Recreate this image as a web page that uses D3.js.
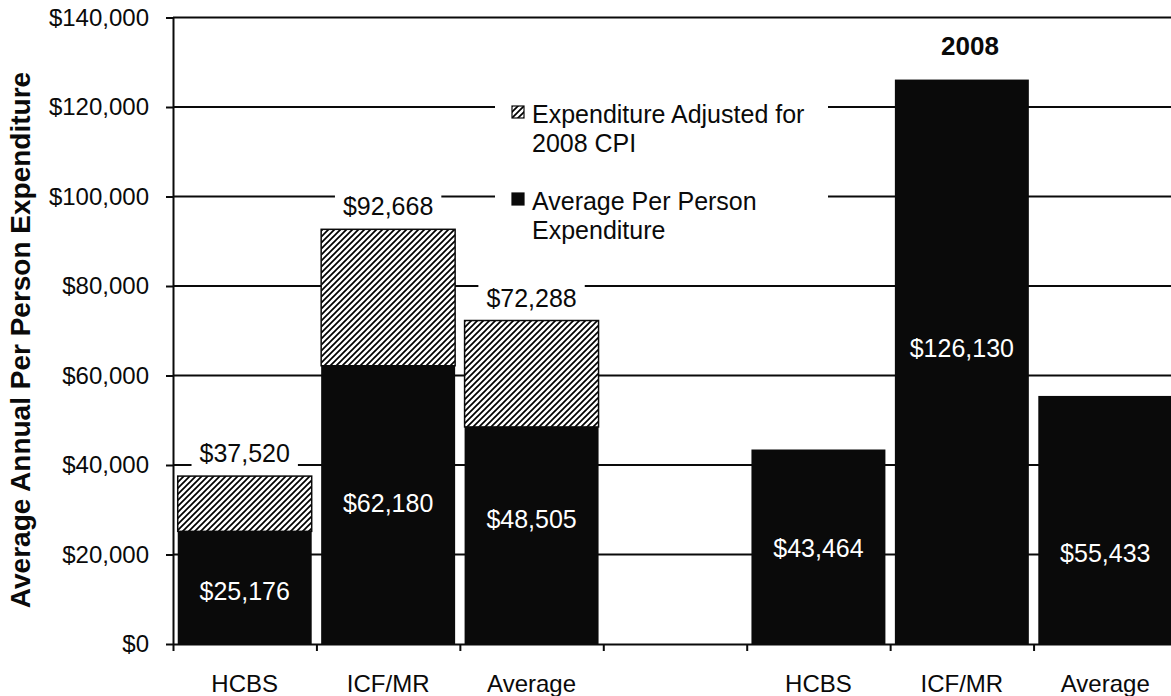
<!DOCTYPE html>
<html>
<head>
<meta charset="utf-8">
<script src="https://cdn.jsdelivr.net/npm/d3@7"></script>
<style>
  html, body { margin: 0; padding: 0; background: #fff; }
  svg { display: block; font-family: "Liberation Sans", Arial, sans-serif; }
</style>
</head>
<body>
<svg id="chart" width="1171" height="696"></svg>
<script>
// values
var categories = ["HCBS", "ICF/MR", "Average"]
var perPerson = [25176, 62180, 48505]
var adjusted = [37520, 92668, 72288]
var perPerson2008 = [43464, 126130, 55433]
var yTicks = [0, 20000, 40000, 60000, 80000, 100000, 120000, 140000]
var groupTitle = "2008"
var yTitle = "Average Annual Per Person Expenditure"
var legendLines = [["Expenditure Adjusted for", "2008 CPI"], ["Average Per Person", "Expenditure"]]

// where the white value labels sit inside each bar (fraction of its height)
var innerAt = [0.47, 0.505, 0.576, 0.494, 0.524, 0.367]

var width = 1171, height = 696
var margin = {left: 173, top: 17.5, bottom: 52}
var plotRight = 1177
var ink = "#0a0a0a"

var svg = d3.select("svg#chart")

var slots = categories.map(c => "a-" + c).concat(["gap"], categories.map(c => "b-" + c))

var x = d3.scaleBand()
    .domain(slots)
    .range([margin.left, plotRight])
    .paddingInner(0.066)
    .paddingOuter(0.033)
var y = d3.scaleLinear()
    .domain([0, 140000])
    .range([height - margin.bottom, margin.top])
var xEdges = d3.scaleLinear()
    .domain([0, slots.length])
    .range([margin.left, plotRight])

var money = d => "$" + d3.format(",")(d)

// hatch pattern: upward diagonal lines
var defs = svg.append("defs")
var pat = defs.append("pattern")
    .attr("id", "hatch")
    .attr("patternUnits", "userSpaceOnUse")
    .attr("width", 6)
    .attr("height", 6)
pat.append("rect").attr("width", 6).attr("height", 6).attr("fill", "#fff")
pat.append("path")
    .attr("d", "M-1,1 L1,-1 M0,6 L6,0 M5,7 L7,5")
    .attr("stroke", "#000")
    .attr("stroke-width", 1.7)

// gridlines
svg.append("g")
  .selectAll("line")
  .data(yTicks.slice(1))
  .enter()
  .append("line")
    .attr("x1", margin.left)
    .attr("x2", plotRight)
    .attr("y1", d => y(d))
    .attr("y2", d => y(d))
    .attr("stroke", ink)
    .attr("stroke-width", 2)

var masks = svg.append("g")
var bars = svg.append("g")
var labels = svg.append("g")

// left group: stacked actual + CPI-adjusted
var left = categories.map((c, i) => ({key: "a-" + c, base: perPerson[i], adj: adjusted[i], i: i}))
bars.selectAll("rect.adj")
  .data(left)
  .enter()
  .append("rect")
    .attr("class", "adj")
    .attr("x", d => x(d.key))
    .attr("y", d => y(d.adj))
    .attr("width", x.bandwidth())
    .attr("height", d => y(d.base) - y(d.adj))
    .attr("fill", "url(#hatch)")
    .attr("stroke", ink)
    .attr("stroke-width", 1.5)
bars.selectAll("rect.base")
  .data(left)
  .enter()
  .append("rect")
    .attr("class", "base")
    .attr("x", d => x(d.key))
    .attr("y", d => y(d.base))
    .attr("width", x.bandwidth())
    .attr("height", d => y(0) - y(d.base))
    .attr("fill", ink)

// right group: 2008
var right = categories.map((c, i) => ({key: "b-" + c, base: perPerson2008[i], i: i + 3}))
bars.selectAll("rect.y2008")
  .data(right)
  .enter()
  .append("rect")
    .attr("class", "y2008")
    .attr("x", d => x(d.key))
    .attr("y", d => y(d.base))
    .attr("width", x.bandwidth())
    .attr("height", d => y(0) - y(d.base))
    .attr("fill", ink)

// inner white labels
labels.selectAll("text.inner")
  .data(left.concat(right))
  .enter()
  .append("text")
    .attr("class", "inner")
    .attr("x", d => x(d.key) + x.bandwidth() / 2)
    .attr("y", d => y(d.base * innerAt[d.i]))
    .attr("dy", "0.36em")
    .attr("text-anchor", "middle")
    .attr("fill", "#fff")
    .style("font-size", "25px")
    .text(d => money(d.base))

// totals above the hatched bars, on white boxes
var tops = labels.selectAll("text.top")
  .data(left)
  .enter()
  .append("text")
    .attr("class", "top")
    .attr("x", d => x(d.key) + x.bandwidth() / 2)
    .attr("y", d => y(d.adj) - 14)
    .attr("text-anchor", "middle")
    .attr("fill", ink)
    .style("font-size", "25px")
    .text(d => money(d.adj))
tops.each(function(d) {
  var w = this.getComputedTextLength()
  masks.append("rect")
      .attr("x", x(d.key) + x.bandwidth() / 2 - w / 2 - 8)
      .attr("y", y(d.adj) - 14 - 25)
      .attr("width", w + 16)
      .attr("height", 33)
      .attr("fill", "#fff")
})

// axes
var yAxis = g => g
    .attr("transform", `translate(${margin.left},0)`)
    .call(d3.axisLeft(y).tickValues(yTicks).tickSize(7).tickSizeOuter(0).tickPadding(17).tickFormat(money))
    .call(g => g.selectAll("path, line").attr("stroke", ink).attr("stroke-width", 2))
    .call(g => g.selectAll("text").attr("fill", ink).style("font-size", "24px").style("font-family", null))
var xAxis = g => g
    .attr("transform", `translate(0,${y(0)})`)
    .call(d3.axisBottom(xEdges).tickValues(d3.range(slots.length + 1)).tickSize(7).tickSizeOuter(0).tickFormat(""))
    .call(g => g.selectAll("path, line").attr("stroke", ink).attr("stroke-width", 2))

svg.append("g").call(xAxis)
svg.append("g").call(yAxis)

// category labels
svg.append("g")
  .selectAll("text")
  .data(slots.filter(s => s != "gap"))
  .enter()
  .append("text")
    .attr("x", d => x(d) + x.bandwidth() / 2)
    .attr("y", 692)
    .attr("text-anchor", "middle")
    .attr("fill", ink)
    .style("font-size", "24px")
    .text(d => d.slice(2))

// y title
svg.append("text")
    .attr("transform", "translate(30,340) rotate(-90)")
    .attr("text-anchor", "middle")
    .attr("fill", ink)
    .style("font-size", "28px")
    .style("font-weight", "bold")
    .text(yTitle)

// group title
svg.append("text")
    .attr("x", 970)
    .attr("y", 55)
    .attr("text-anchor", "middle")
    .attr("fill", ink)
    .style("font-size", "26px")
    .style("font-weight", "bold")
    .text(groupTitle)

// legend
var legend = svg.append("g").attr("transform", "translate(495,88)")
legend.append("rect")
    .attr("width", 333)
    .attr("height", 157)
    .attr("fill", "#fff")
var entry = legend.selectAll("g.entry")
  .data(legendLines)
  .enter()
  .append("g")
    .attr("class", "entry")
    .attr("transform", (d, i) => `translate(17,${18 + i * 87})`)
entry.append("rect")
    .attr("width", 12)
    .attr("height", 12)
    .attr("fill", (d, i) => i == 0 ? "url(#hatch)" : ink)
    .attr("stroke", ink)
    .attr("stroke-width", 1.2)
entry.selectAll("text")
  .data(d => d)
  .enter()
  .append("text")
    .attr("x", 20)
    .attr("y", (d, i) => 17 + i * 29)
    .attr("fill", ink)
    .style("font-size", "25px")
    .text(d => d)
</script>
</body>
</html>
